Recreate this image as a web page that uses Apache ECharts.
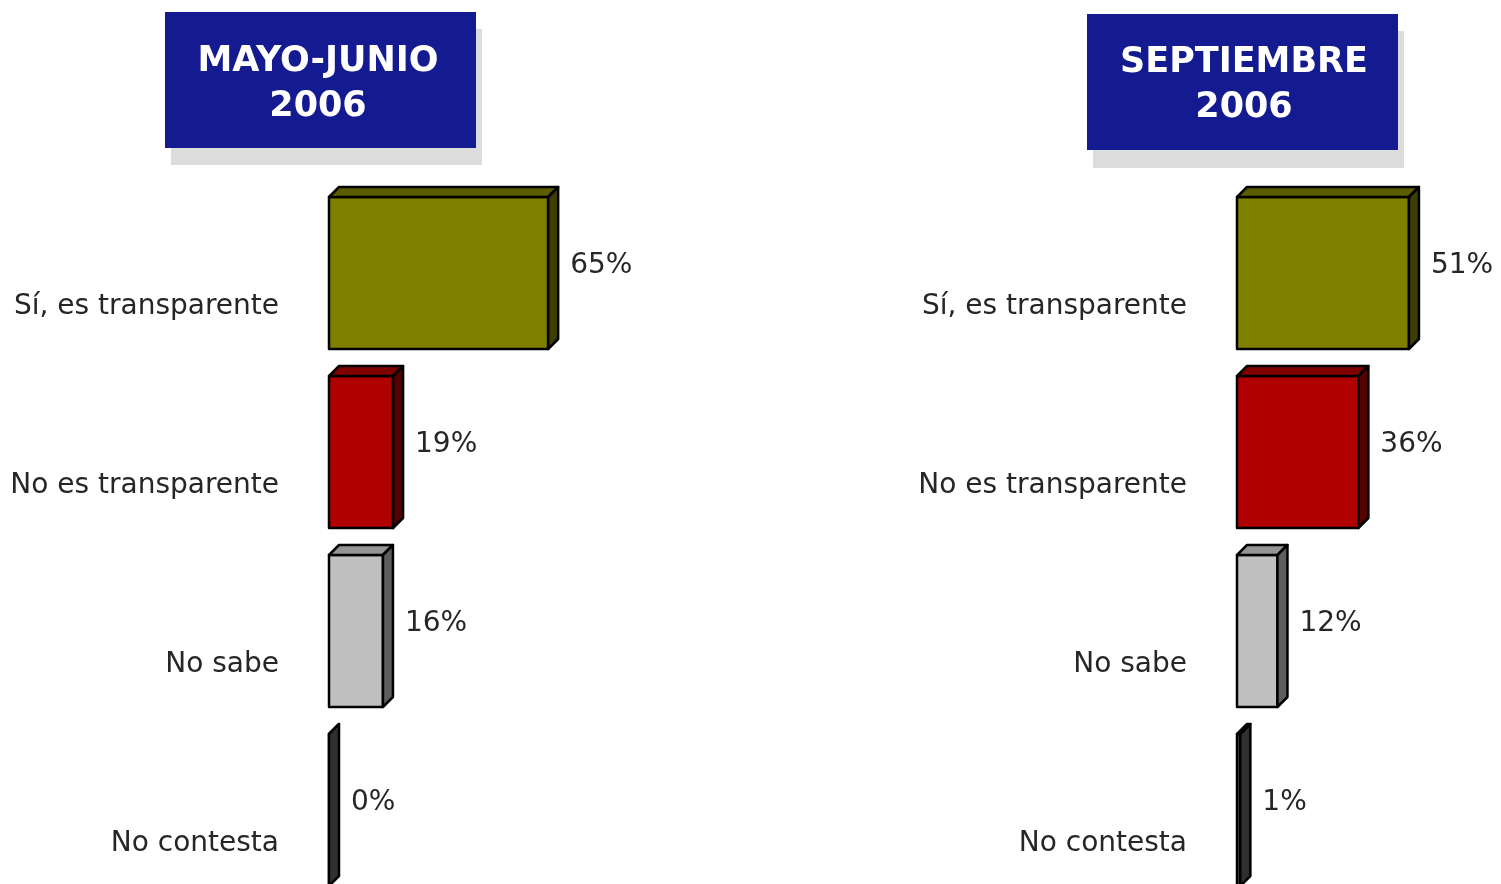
<!DOCTYPE html>
<html>
<head>
<meta charset="utf-8">
<script src="https://cdn.jsdelivr.net/npm/echarts@6/dist/echarts.min.js"></script>
<style>
  html, body { margin: 0; padding: 0; background: #fff; }
  #main { width: 1501px; height: 884px; }
</style>
</head>
<body>
<div id="main"></div>
<script>
var categories = ['Sí, es transparente', 'No es transparente', 'No sabe', 'No contesta']
var mayoJunio = [65, 19, 16, 0]
var septiembre = [51, 36, 12, 1]
var titles = ['MAYO-JUNIO\n2006', 'SEPTIEMBRE\n2006']

// front / top / side colours per category
var faces = [
  ['#808000', '#5c5c00', '#3e3e00'],
  ['#b00000', '#800000', '#560000'],
  ['#c0c0c0', '#949494', '#5e5e5e'],
  ['#4a4a4a', '#3a3a3a', '#303030']
]

var depth = 10
var frontH = 152

function renderBar(params, api) {
  var idx = api.value(1)
  var p0 = api.coord([0, idx])
  var p1 = api.coord([api.value(0), idx])
  var x0 = p0[0], x1 = p1[0], cy = p0[1]
  var y0 = cy - frontH / 2, y1 = cy + frontH / 2
  var c = faces[idx]
  var stroke = { stroke: '#000', lineWidth: 2.5, lineJoin: 'round' }
  return {
    type: 'group',
    children: [
      { type: 'rect', shape: { x: x0, y: y0, width: x1 - x0, height: frontH },
        style: Object.assign({ fill: c[0] }, stroke) },
      { type: 'polygon', shape: { points: [[x0, y0], [x0 + depth, y0 - depth], [x1 + depth, y0 - depth], [x1, y0]] },
        style: Object.assign({ fill: c[1] }, stroke) },
      { type: 'polygon', shape: { points: [[x1, y0], [x1 + depth, y0 - depth], [x1 + depth, y1 - depth], [x1, y1]] },
        style: Object.assign({ fill: c[2] }, stroke) },
      { type: 'text', style: { text: api.value(0) + '%', x: x1 + depth + 12, y: cy - 7,
        verticalAlign: 'middle', fill: '#262626', font: '28px "DejaVu Sans"' } }
    ]
  }
}

function seriesData(arr) {
  return arr.map(function (v, i) { return [v, i] })
}

var myChart = echarts.init(document.getElementById('main'))
var option = {
  animation: false,
  grid: [
    { left: 329, top: 273, width: 236, height: 537 },
    { left: 1237, top: 273, width: 236, height: 537 }
  ],
  xAxis: [0, 1].map(function (g) {
    return { type: 'value', gridIndex: g, min: 0, max: 70, show: false }
  }),
  yAxis: [0, 1].map(function (g) {
    return {
      type: 'category', gridIndex: g, data: categories, inverse: true, boundaryGap: false,
      axisLine: { show: false }, axisTick: { show: false }, splitLine: { show: false },
      axisLabel: {
        margin: 50, color: '#262626', fontSize: 28, fontFamily: 'DejaVu Sans', lineHeight: 68,
        formatter: function (v) { return '\n' + v }
      }
    }
  }),
  graphic: [
    { type: 'rect', shape: { x: 171, y: 29, width: 311, height: 136 }, style: { fill: '#dcdcdc' } },
    { type: 'rect', shape: { x: 165, y: 12, width: 311, height: 136 }, style: { fill: '#141a90' } },
    { type: 'text', style: { text: titles[0], x: 318, y: 84, align: 'center', verticalAlign: 'middle',
      fill: '#fff', font: 'bold 35px "DejaVu Sans"', lineHeight: 45 } },
    { type: 'rect', shape: { x: 1093, y: 31, width: 311, height: 137 }, style: { fill: '#dcdcdc' } },
    { type: 'rect', shape: { x: 1087, y: 14, width: 311, height: 136 }, style: { fill: '#141a90' } },
    { type: 'text', style: { text: titles[1], x: 1244, y: 85, align: 'center', verticalAlign: 'middle',
      fill: '#fff', font: 'bold 35px "DejaVu Sans"', lineHeight: 45 } }
  ],
  series: [
    { type: 'custom', xAxisIndex: 0, yAxisIndex: 0, renderItem: renderBar,
      encode: { x: 0, y: 1 }, data: seriesData(mayoJunio) },
    { type: 'custom', xAxisIndex: 1, yAxisIndex: 1, renderItem: renderBar,
      encode: { x: 0, y: 1 }, data: seriesData(septiembre) }
  ]
}
myChart.setOption(option)
</script>
</body>
</html>
